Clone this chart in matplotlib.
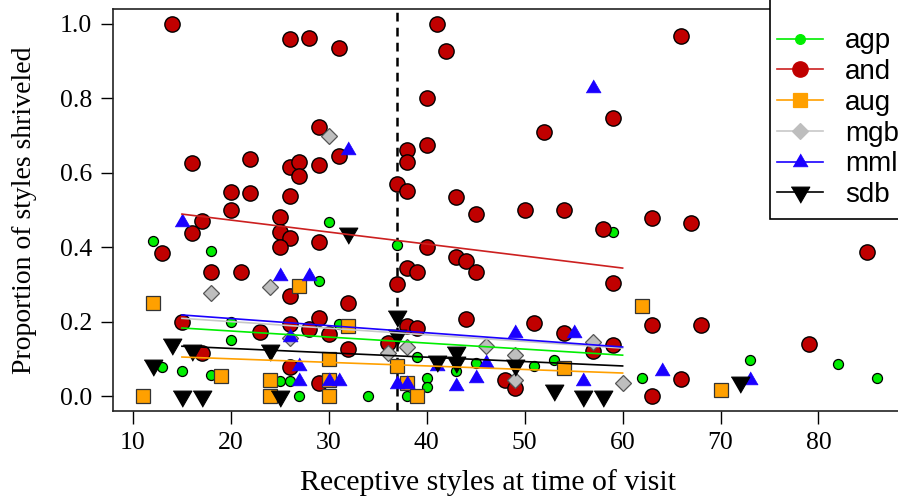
import matplotlib as mpl
mpl.use('Agg')
import matplotlib.pyplot as plt
from matplotlib.lines import Line2D
from matplotlib.patches import Rectangle

# ---- data ----
agp_x = [12, 13, 15, 18, 18, 20, 20, 25, 26, 27, 29, 30, 31, 34, 37, 38, 39, 40, 40,
         43, 45, 51, 53, 59, 62, 73, 82, 86]
agp_y = [0.416, 0.078, 0.068, 0.39, 0.057, 0.20, 0.15, 0.04, 0.04, 0.0, 0.31, 0.467,
         0.195, 0.0, 0.405, 0.0, 0.104, 0.05, 0.025, 0.068, 0.09, 0.08, 0.097, 0.44,
         0.048, 0.097, 0.086, 0.048]

and_x = [14, 26, 28, 31, 29, 31, 16, 22, 26, 27, 27, 29, 20, 22, 26, 20, 17, 25, 16, 25,
         26, 25, 29, 13, 18, 21, 26, 32, 15, 23, 26, 28, 29, 30, 32, 17, 26, 29, 36,
         41, 42, 40, 52, 40, 38, 38, 37, 38, 43, 45, 50, 54, 40, 43, 44, 38, 39, 45,
         37, 44, 51, 54, 38, 39, 48, 49, 57, 66, 59, 63, 67, 58, 85, 59, 63, 68, 79,
         59, 66, 63]
and_y = [1.0, 0.96, 0.962, 0.935, 0.723, 0.645, 0.626, 0.637, 0.616, 0.629, 0.592, 0.621,
         0.549, 0.545, 0.538, 0.50, 0.47, 0.482, 0.437, 0.44, 0.424, 0.40, 0.415, 0.385,
         0.334, 0.334, 0.269, 0.25, 0.20, 0.172, 0.193, 0.18, 0.21, 0.167, 0.126, 0.117,
         0.078, 0.035, 0.142,
         1.0, 0.928, 0.80, 0.71, 0.675, 0.66, 0.63, 0.57, 0.55, 0.535, 0.49, 0.50, 0.50,
         0.40, 0.373, 0.364, 0.343, 0.334, 0.334, 0.30, 0.206, 0.197, 0.169, 0.188,
         0.183, 0.043, 0.022, 0.122, 0.968, 0.746, 0.478, 0.464, 0.448, 0.388, 0.305,
         0.19, 0.19, 0.14, 0.137, 0.046, 0.0]

aug_x = [11, 12, 19, 24, 24, 27, 30, 30, 30, 32, 37, 38, 39, 54, 62, 70]
aug_y = [0.0, 0.25, 0.054, 0.043, 0.0, 0.296, 0.10, 0.043, 0.0, 0.188, 0.08, 0.035, 0.0,
         0.075, 0.242, 0.016]

mgb_x = [18, 24, 30, 26, 36, 38, 46, 49, 49, 57, 60]
mgb_y = [0.278, 0.293, 0.70, 0.155, 0.115, 0.132, 0.134, 0.11, 0.043, 0.145, 0.035]

mml_x = [15, 25, 28, 32, 26, 27, 27, 30, 31, 37, 38, 41, 43, 45, 46, 49, 55, 56, 57, 64, 73]
mml_y = [0.468, 0.323, 0.323, 0.66, 0.16, 0.08, 0.04, 0.04, 0.04, 0.032, 0.032, 0.08,
         0.028, 0.048, 0.09, 0.17, 0.17, 0.04, 0.827, 0.068, 0.043]

sdb_x = [12, 14, 15, 16, 17, 24, 25, 32, 37, 37, 41, 43, 43, 49, 53, 56, 58, 72]
sdb_y = [0.083, 0.14, 0.0, 0.123, 0.0, 0.123, 0.0, 0.437, 0.215, 0.165, 0.095, 0.118,
         0.091, 0.083, 0.016, 0.0, 0.0, 0.038]

# fitted lines (start / end values)
fit_x = [15, 60]
fit_agp = [0.183, 0.110]
fit_and = [0.489, 0.344]
fit_aug = [0.105, 0.062]
fit_mgb = [0.209, 0.129]
fit_mml = [0.218, 0.132]
fit_sdb = [0.134, 0.081]

cutoff = 37
species = ['agp', 'and', 'aug', 'mgb', 'mml', 'sdb']

# ---- styles ----
tri_up = [(-1, -0.577), (1, -0.577), (0, 1.155)]
tri_dn = [(-1, 0.577), (1, 0.577), (0, -1.155)]
cols = {'agp': '#00ee00', 'and': '#c00000', 'aug': '#ffa000',
        'mgb': '#bebebe', 'mml': '#1a00ff', 'sdb': 'black'}
lcols = {'agp': '#00ee00', 'and': '#cc2020', 'aug': '#ffa000',
         'mgb': '#c8c8c8', 'mml': '#1a00ff', 'sdb': 'black'}
mk = {'agp': dict(marker='o', ms=7.2, mec='black', mew=0.9),
      'and': dict(marker='o', ms=11, mec='black', mew=1.0),
      'aug': dict(marker='s', ms=9.5, mec='#333333', mew=0.9),
      'mgb': dict(marker='D', ms=8.5, mec='#555555', mew=0.9),
      'mml': dict(marker=tri_up, ms=12.5, mec=cols['mml'], mew=0.5),
      'sdb': dict(marker=tri_dn, ms=15.5, mec='black', mew=0.8)}

xs = {'agp': agp_x, 'and': and_x, 'aug': aug_x, 'mgb': mgb_x, 'mml': mml_x, 'sdb': sdb_x}
ys = {'agp': agp_y, 'and': and_y, 'aug': aug_y, 'mgb': mgb_y, 'mml': mml_y, 'sdb': sdb_y}
fits = {'agp': fit_agp, 'and': fit_and, 'aug': fit_aug, 'mgb': fit_mgb,
        'mml': fit_mml, 'sdb': fit_sdb}

W, H = 898, 498
fig = plt.figure(figsize=(W / 100, H / 100), dpi=100)
ax = fig.add_axes([113 / W, (H - 411) / H, 794 / W, 402 / H])
ax.set_xlim(7.96, 89.04)
ax.set_ylim(-0.04, 1.04)

ax.axvline(cutoff, color='black', lw=1.8, ls=(0, (3.5, 2.5)), zorder=1)

for s in species:
    ax.plot(xs[s], ys[s], ls='none', mfc=cols[s], zorder=2, **mk[s])
for s in species:
    ax.plot(fit_x, fits[s], color=lcols[s], lw=1.2, zorder=3)

serif = 'Liberation Serif'
ax.set_xticks([10, 20, 30, 40, 50, 60, 70, 80])
ax.set_yticks([0.0, 0.2, 0.4, 0.6, 0.8, 1.0])
ax.set_yticklabels(['0.0', '0.2', '0.4', '0.6', '0.8', '1.0'])
ax.tick_params(direction='out', length=9, width=1.0, labelsize=18.5, pad=6)
for lab in ax.get_xticklabels() + ax.get_yticklabels():
    lab.set_family(serif)
for sp in ax.spines.values():
    sp.set_linewidth(1.2)
    sp.set_color('#222222')

ax.set_xlabel('Receptive styles at time of visit', family=serif, fontsize=21.5)
ax.set_ylabel('Proportion of styles shriveled', family=serif, fontsize=20)
ax.xaxis.set_label_coords(0.472, -0.178)
ax.xaxis.label.set_va('center')
ax.yaxis.set_label_coords(-0.112, 0.5)
ax.yaxis.label.set_va('center')

# legend box
ax.add_patch(Rectangle((0.8275, 0.4776), 0.3, 0.6, transform=ax.transAxes,
                       fill=True, fc='white', ec='black', lw=1.2, zorder=5,
                       clip_on=False))
handles = []
for s in species:
    d = dict(mk[s])
    d['mec'] = cols[s]
    if s == 'agp':
        d['ms'] = 7
    handles.append(Line2D([], [], color=lcols[s], lw=1.2, mfc=cols[s], **d))
leg = ax.legend(handles, species, loc='upper left', bbox_to_anchor=(0.836, 0.9515),
                frameon=False, borderpad=0, borderaxespad=0, handlelength=1.65,
                handletextpad=0.8, labelspacing=0.17,
                prop={'family': 'Liberation Sans', 'size': 20})
leg.set_zorder(6)

fig.savefig('out.png', dpi=100)
